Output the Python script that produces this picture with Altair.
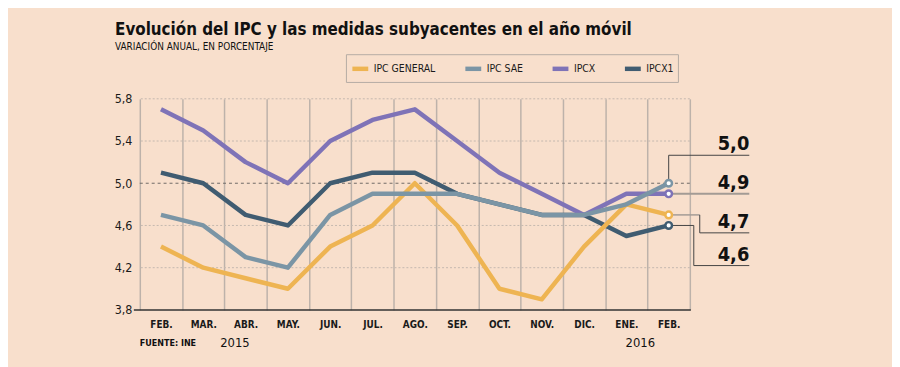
import altair as alt
import pandas as pd

meses = ["FEB.", "MAR.", "ABR.", "MAY.", "JUN.", "JUL.", "AGO.", "SEP.", "OCT.", "NOV.", "DIC.", "ENE.", "FEB."]
ipc_general = [4.4, 4.2, 4.1, 4.0, 4.4, 4.6, 5.0, 4.6, 4.0, 3.9, 4.4, 4.8, 4.7]
ipc_sae = [4.7, 4.6, 4.3, 4.2, 4.7, 4.9, 4.9, 4.9, 4.8, 4.7, 4.7, 4.8, 5.0]
ipcx = [5.7, 5.5, 5.2, 5.0, 5.4, 5.6, 5.7, 5.4, 5.1, 4.9, 4.7, 4.9, 4.9]
ipcx1 = [5.1, 5.0, 4.7, 4.6, 5.0, 5.1, 5.1, 4.9, 4.8, 4.7, 4.7, 4.5, 4.6]
series = ["IPC GENERAL", "IPC SAE", "IPCX", "IPCX1"]
colores = ["#EEB452", "#7B95A5", "#7F73B7", "#405C71"]
y_ticks = [3.8, 4.2, 4.6, 5.0, 5.4, 5.8]
years = ["2015", "2016"]
titulo = "Evolución del IPC y las medidas subyacentes en el año móvil"
subtitulo = "VARIACIÓN ANUAL, EN PORCENTAJE"
fuente = "FUENTE: INE"

valores = {"IPC GENERAL": ipc_general, "IPC SAE": ipc_sae, "IPCX": ipcx, "IPCX1": ipcx1}
rows = []
for s in series:
    for i, v in enumerate(valores[s]):
        rows.append({"idx": i, "serie": s, "valor": v})
df = pd.DataFrame(rows)
last = df[df["idx"] == len(meses) - 1].copy()
last["lab"] = last["valor"].map(lambda v: f"{v:.1f}".replace(".", ","))

NARROW = "DejaVu Sans Condensed, Roboto, sans-serif"
BG = "#F8DFCC"
W, H = 555, 213

label_expr = "[" + ",".join(f"'{m}'" for m in meses) + "][datum.value]"

xenc = alt.X(
    "idx:O",
    scale=alt.Scale(type="band", paddingInner=0, paddingOuter=0),
    axis=alt.Axis(
        title=None, labelExpr=label_expr, ticks=False, domain=False, grid=True,
        gridColor="#BDB2AA", gridWidth=1.5, tickBand="extent",
        labelFont=NARROW, labelFontWeight="bold", labelFontSize=10,
        labelColor="#1a1a1a", labelPadding=10, labelAngle=0,
    ),
)
yenc = alt.Y(
    "valor:Q",
    scale=alt.Scale(domain=[3.8, 5.8], nice=False, zero=False),
    axis=alt.Axis(
        title=None, values=y_ticks, grid=False, ticks=False, domain=False,
        labelExpr="replace(format(datum.value, '.1f'), '.', ',')",
        labelFont=NARROW, labelFontSize=12.5, labelColor="#1a1a1a",
        labelPadding=8,
    ),
)
color = alt.Color(
    "serie:N",
    scale=alt.Scale(domain=series, range=colores),
    legend=alt.Legend(
        title=None, orient="none", legendX=208, legendY=-45, direction="horizontal",
        symbolType="stroke", symbolSize=256, symbolStrokeWidth=4.5,
        labelFont=NARROW, labelFontSize=10.5, labelColor="#1a1a1a", labelOffset=3,
        columnPadding=20, padding=4, strokeColor="#B5ABA4", fillColor=BG,
    ),
)

ygrid = pd.DataFrame({"valor": [v for v in y_ticks if v not in (3.8, 5.0)]})
grid_dot = alt.Chart(ygrid).mark_rule(color="#C4B8AF", strokeDash=[2, 2], strokeWidth=1).encode(
    y=alt.Y("valor:Q")
)
grid_five = alt.Chart(pd.DataFrame({"valor": [5.0]})).mark_rule(
    color="#6F6A66", strokeDash=[3, 3], strokeWidth=1
).encode(y="valor:Q")

base = alt.Chart(df).encode(x=xenc, y=yenc, color=color)
draw_order = ["IPCX1", "IPC GENERAL", "IPCX", "IPC SAE"]
lines = [
    base.transform_filter(alt.datum.serie == s).mark_line(strokeWidth=4.5, strokeJoin="round")
    for s in draw_order
]

bottom = alt.Chart(pd.DataFrame({"valor": [3.8]})).mark_rule(color="#333333", strokeWidth=1.5).encode(
    y="valor:Q", x=alt.value(-6), x2=alt.value(W + 1)
)

def lrow(serie):
    return alt.Chart(last[last["serie"] == serie])

lead = []
# 5,0 (IPC SAE)
lead.append(lrow("IPC SAE").mark_rule(color="#444444", strokeWidth=1).encode(
    x="idx:O", y="valor:Q", y2=alt.datum(5.265)))
lead.append(lrow("IPC SAE").mark_rule(color="#444444", strokeWidth=1).encode(
    x="idx:O", x2=alt.value(615), y=alt.datum(5.265)))
# 4,9 (IPCX)
lead.append(lrow("IPCX").mark_rule(color="#A39B95", strokeWidth=2).encode(
    x="idx:O", x2=alt.value(615), y="valor:Q"))
# 4,7 (IPC GENERAL)
lead.append(lrow("IPC GENERAL").mark_rule(color="#A39B95", strokeWidth=1.5).encode(
    x="idx:O", x2=alt.value(565), y="valor:Q"))
lead.append(lrow("IPC GENERAL").mark_rule(color="#444444", strokeWidth=1).encode(
    x=alt.value(565), y="valor:Q", y2=alt.datum(4.53)))
lead.append(lrow("IPC GENERAL").mark_rule(color="#444444", strokeWidth=1).encode(
    x=alt.value(565), x2=alt.value(615), y=alt.datum(4.53)))
# 4,6 (IPCX1)
lead.append(lrow("IPCX1").mark_rule(color="#444444", strokeWidth=1).encode(
    x="idx:O", x2=alt.value(559), y="valor:Q"))
lead.append(lrow("IPCX1").mark_rule(color="#444444", strokeWidth=1).encode(
    x=alt.value(559), y="valor:Q", y2=alt.datum(4.22)))
lead.append(lrow("IPCX1").mark_rule(color="#444444", strokeWidth=1).encode(
    x=alt.value(559), x2=alt.value(615), y=alt.datum(4.22)))

label_levels = {"IPC SAE": 5.265, "IPCX": 4.9, "IPC GENERAL": 4.53, "IPCX1": 4.22}
val_labels = [
    lrow(s).mark_text(
        align="right", baseline="alphabetic", dy=-5, fontSize=20, fontWeight="bold",
        font=NARROW, color="#111111",
    ).encode(text="lab:N", x=alt.value(615), y=alt.datum(label_levels[s]))
    for s in series
]

points = alt.Chart(last).mark_point(
    filled=True, fill="white", size=45, strokeWidth=2.5, opacity=1
).encode(x=xenc, y=yenc, stroke=alt.Stroke("serie:N", scale=alt.Scale(domain=series, range=colores), legend=None))

def txt(t, x, y, **kw):
    return alt.Chart(pd.DataFrame({"t": [t]})).mark_text(**kw).encode(
        text="t:N", x=alt.value(x), y=alt.value(y)
    )

texts = [
    txt(titulo, -25, -64, align="left", baseline="alphabetic", font=NARROW,
        fontSize=17, fontWeight="bold", color="#111111"),
    txt(subtitulo, -25, -49, align="left", baseline="alphabetic", font=NARROW,
        fontSize=10, color="#111111"),
    txt(fuente, 0, 246, align="left", baseline="middle", font=NARROW,
        fontSize=9, fontWeight="bold", color="#111111"),
    txt(years[0], 96, 246, align="center", baseline="middle", font=NARROW,
        fontSize=13, color="#111111"),
    txt(years[1], 505, 246, align="center", baseline="middle", font=NARROW,
        fontSize=13, color="#111111"),
]

chart = alt.layer(
    grid_dot, grid_five, *lines, bottom, *lead, points, *val_labels, *texts
).properties(
    width=W, height=H, background=BG,
    padding={"left": 133, "top": 90, "right": 204, "bottom": 56},
    autosize="none",
).configure_view(stroke=None)

chart.save("out.html", embed_options={"renderer": "svg", "actions": False})
